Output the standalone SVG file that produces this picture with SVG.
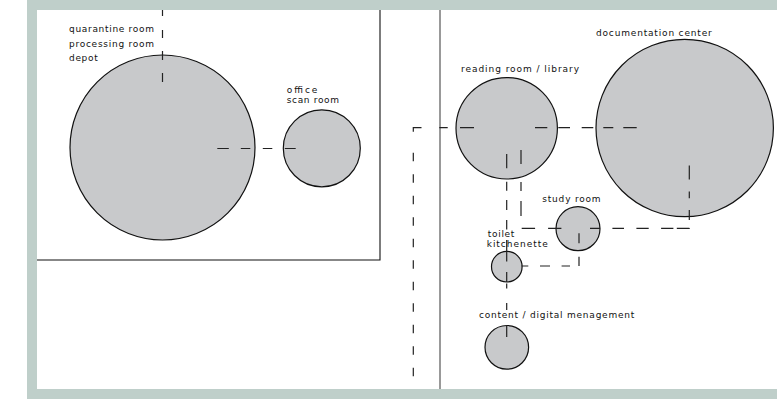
<svg xmlns="http://www.w3.org/2000/svg" width="777" height="399" viewBox="0 0 777 399">
<style>
.room{fill:#c8c9cb;stroke:#111;stroke-width:1.2}
.lbl{font-family:"DejaVu Sans",sans-serif;font-size:9px;fill:#111}
.dash{fill:none;stroke:#222;stroke-width:1.2}
.frame{fill:none;stroke:#111;stroke-width:1.1}
</style>
<rect x="27" y="0" width="750" height="399" fill="#bfcfca"/>
<rect x="37" y="10" width="740" height="379" fill="#ffffff"/>
<g id="frames">
<path class="frame" d="M37,260 H380 V10"/>
<line x1="440" y1="10" x2="440" y2="389" stroke="#777" stroke-width="1.5"/>
</g>
<g id="depot">
<circle class="room" cx="162.5" cy="147.5" r="92.5"/>
<text class="lbl" x="69" y="31.7" textLength="85" lengthAdjust="spacing">quarantine room</text>
<text class="lbl" x="69" y="46.7" textLength="85" lengthAdjust="spacing">processing room</text>
<text class="lbl" x="69" y="61" textLength="28.7" lengthAdjust="spacing">depot</text>
</g>
<g id="office">
<circle class="room" cx="321.8" cy="148.3" r="38.5"/>
<text class="lbl" x="286.7" y="92.7" textLength="30.7" lengthAdjust="spacing">office</text>
<text class="lbl" x="286.7" y="103.3" textLength="52.3" lengthAdjust="spacing">scan room</text>
</g>
<g id="reading-room">
<circle class="room" cx="506.7" cy="128.3" r="50.7"/>
<text class="lbl" x="461" y="72.3" textLength="118" lengthAdjust="spacing">reading room / library</text>
</g>
<g id="documentation-center">
<circle class="room" cx="684.7" cy="128" r="88.7"/>
<text class="lbl" x="596" y="35.7" textLength="115.7" lengthAdjust="spacing">documentation center</text>
</g>
<g id="study-room">
<circle class="room" cx="578" cy="228.7" r="22"/>
<text class="lbl" x="542.3" y="202.3" textLength="58.3" lengthAdjust="spacing">study room</text>
</g>
<g id="toilet">
<circle class="room" cx="506.8" cy="266.7" r="15.3"/>
<text class="lbl" x="487.7" y="236.7" textLength="26.7" lengthAdjust="spacing">toilet</text>
<text class="lbl" x="486.7" y="247.3" textLength="61" lengthAdjust="spacing">kitchenette</text>
</g>
<g id="content-management">
<circle class="room" cx="506.8" cy="347.3" r="21.8"/>
<text class="lbl" x="479" y="317.7" textLength="155.3" lengthAdjust="spacing">content / digital menagement</text>
</g>
<g id="connectors">
<path class="dash" d="M162.5,10 V82" stroke-dasharray="6 14 8 13 9 13 9"/>
<path class="dash" d="M217.3,148.5 H295.7" stroke-dasharray="11.5 12 9.5 12.5 9.5 12.5 11.5"/>
<path class="dash" d="M421.5,127.7 H413.3 V131.7"/>
<path class="dash" d="M413.3,152.7 V389" stroke-dasharray="8.5 13"/>
<path class="dash" d="M439.3,127.7 H636.7" stroke-dasharray="8.4 12.3 14 61 12.3 11 11.7 11.7 11.6 10 10 10 13.4"/>
<path class="dash" d="M506.7,154 V337" stroke-dasharray="14.3 13.4 9 9.3 10 10 9.5 10.5 21.5 10.5 10 1.5 5 14.5 7 15 12"/>
<path class="dash" d="M521,150 V228.3 H689.3 V161.7" stroke-dasharray="14 18 9 10 15 13 13.4 13 13.3 28.6 10 12.4 11.6 12.4 12.3 12.4 12.3 3.4 12.6 8.3 10 11.7 6.6 12"/>
<path class="dash" d="M579,233.3 V266 H514" stroke-dasharray="10 13.4 9.3 9 8.4 11.6 10 11.7 6.7"/>
</g>
</svg>
